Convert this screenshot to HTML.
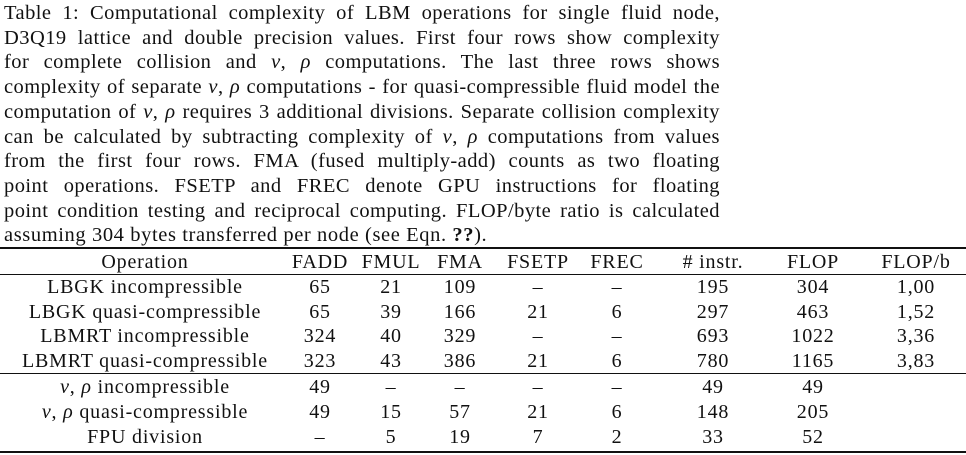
<!DOCTYPE html>
<html><head><meta charset="utf-8"><style>
body{margin:0;width:966px;height:455px;background:#fff;overflow:hidden;font-family:"Liberation Serif",serif;color:#111;position:relative}
.cl{position:absolute;left:4px;width:716px;font-size:20.5px;letter-spacing:0.45px;white-space:nowrap;text-align:justify;text-align-last:justify;line-height:22px}
.cl.last{text-align-last:left;letter-spacing:0.6px}
.rule{position:absolute;left:0;width:966px;background:#111}
.c{position:absolute;transform:translateX(-50%);white-space:nowrap;font-size:20px;letter-spacing:0.8px;line-height:22px}
i{font-style:italic}
</style></head><body>
<div>
<div class="cl" style="top:2px">Table 1: Computational complexity of LBM operations for single fluid node,</div>
<div class="cl" style="top:26.7px">D3Q19 lattice and double precision values. First four rows show complexity</div>
<div class="cl" style="top:51.4px">for complete collision and <i>v</i>, <i>ρ</i> computations. The last three rows shows</div>
<div class="cl" style="top:76.1px">complexity of separate <i>v</i>, <i>ρ</i> computations - for quasi-compressible fluid model the</div>
<div class="cl" style="top:100.8px">computation of <i>v</i>, <i>ρ</i> requires 3 additional divisions. Separate collision complexity</div>
<div class="cl" style="top:125.5px">can be calculated by subtracting complexity of <i>v</i>, <i>ρ</i> computations from values</div>
<div class="cl" style="top:150.2px">from the first four rows. FMA (fused multiply-add) counts as two floating</div>
<div class="cl" style="top:174.9px">point operations. FSETP and FREC denote GPU instructions for floating</div>
<div class="cl" style="top:199.6px">point condition testing and reciprocal computing. FLOP/byte ratio is calculated</div>
<div class="cl last" style="top:224.3px">assuming 304 bytes transferred per node (see Eqn. <b>??</b>).</div>
</div>
<div class="rule" style="top:247px;height:1.5px"></div>
<div class="rule" style="top:274px;height:1px"></div>
<div class="rule" style="top:373px;height:1px"></div>
<div class="rule" style="top:451px;height:1.5px"></div>
<div id="tbl"></div>
<script>
const headers=["Operation","FADD","FMUL","FMA","FSETP","FREC","# instr.","FLOP","FLOP/b"];
const rowsOp=["LBGK incompressible","LBGK quasi-compressible","LBMRT incompressible","LBMRT quasi-compressible","<i>v</i>, <i>ρ</i> incompressible","<i>v</i>, <i>ρ</i> quasi-compressible","FPU division"];
const rowsVals=[
["65","21","109","–","–","195","304","1,00"],
["65","39","166","21","6","297","463","1,52"],
["324","40","329","–","–","693","1022","3,36"],
["323","43","386","21","6","780","1165","3,83"],
["49","–","–","–","–","49","49",""],
["49","15","57","21","6","148","205",""],
["–","5","19","7","2","33","52",""]];
const colX=[145,320,391,460,538,617,713,813,916];
const rowY=[251,276,301,325,350,376,401,426];
const t=document.getElementById('tbl');
function cell(html,x,y,name){const d=document.createElement('div');d.className='c';d.style.left=x+'px';d.style.top=y+'px';d.innerHTML=html;


t.appendChild(d);}
headers.forEach((h,j)=>cell(h,colX[j],rowY[0],'header-cell'));
rowsOp.forEach((op,i)=>{cell(op,colX[0],rowY[i+1],'row-label');rowsVals[i].forEach((v,j)=>cell(v,colX[j+1],rowY[i+1],'value-cell'));});
</script>
</body></html>
